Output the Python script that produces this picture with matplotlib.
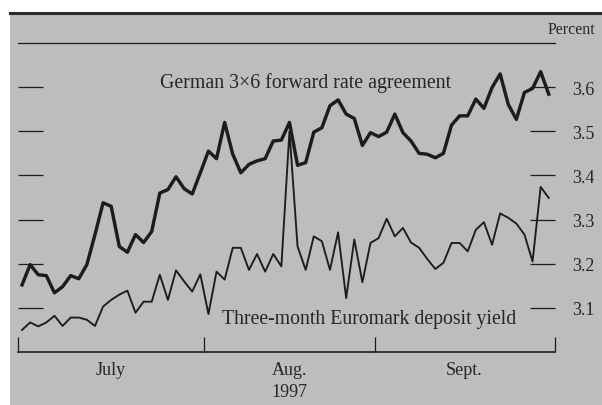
import matplotlib
matplotlib.use("Agg")
import matplotlib.pyplot as plt
from matplotlib.patches import Rectangle
from matplotlib.lines import Line2D
import numpy as np

# ---------------- data ----------------
months = ["July", "Aug.", "Sept."]
month_business_days = [23, 21, 22]
year_label = "1997"

fra_3x6 = [3.152, 3.198, 3.175, 3.173, 3.134, 3.148, 3.173, 3.166, 3.198, 3.266,
           3.338, 3.330, 3.239, 3.226, 3.266, 3.248, 3.273, 3.360, 3.368, 3.397,
           3.370, 3.358, 3.406, 3.455, 3.438, 3.520, 3.448, 3.406, 3.425, 3.433,
           3.438, 3.478, 3.480, 3.520, 3.423, 3.429, 3.498, 3.508, 3.558, 3.571,
           3.539, 3.529, 3.468, 3.497, 3.488, 3.498, 3.539, 3.497, 3.478, 3.450,
           3.448, 3.440, 3.450, 3.514, 3.535, 3.535, 3.573, 3.552, 3.599, 3.630,
           3.561, 3.527, 3.588, 3.597, 3.635, 3.584]

euromark_3m = [3.050, 3.067, 3.058, 3.067, 3.082, 3.059, 3.078, 3.078, 3.073, 3.059,
               3.103, 3.118, 3.130, 3.139, 3.089, 3.114, 3.114, 3.175, 3.118, 3.185,
               3.160, 3.137, 3.176, 3.086, 3.182, 3.164, 3.236, 3.236, 3.186, 3.222,
               3.182, 3.222, 3.194, 3.500, 3.239, 3.186, 3.262, 3.251, 3.186, 3.271,
               3.122, 3.255, 3.158, 3.247, 3.258, 3.302, 3.262, 3.281, 3.248, 3.236,
               3.211, 3.188, 3.202, 3.247, 3.247, 3.228, 3.277, 3.294, 3.243, 3.314,
               3.304, 3.291, 3.266, 3.205, 3.374, 3.349]

yticks = [3.1, 3.2, 3.3, 3.4, 3.5, 3.6]
ytick_labels = ["3.1", "3.2", "3.3", "3.4", "3.5", "3.6"]
fra_label = "German 3\u00d76 forward rate agreement"
euromark_label = "Three-month Euromark deposit yield"
unit_label = "Percent"

# ---------------- style ----------------
SERIF = ["Liberation Serif", "DejaVu Serif"]
TXT = "#262626"
INK = "#1c1c1c"
BG = "#bdbdbd"

W, H = 602, 406
fig = plt.figure(figsize=(W / 100, H / 100), dpi=100)
fig.patch.set_facecolor("white")


def fx(px):
    return px / W


def fy(py):
    return 1 - py / H


# gray panel and top border
fig.patches.append(Rectangle((fx(10), 0), 1 - fx(10), fy(13), transform=fig.transFigure,
                             facecolor=BG, edgecolor="none", zorder=-5))
fig.lines.append(Line2D([fx(10), 1], [fy(13.5), fy(13.5)], transform=fig.transFigure,
                        color="#2b2b2b", lw=2.2, zorder=-4))

ax = fig.add_axes([fx(18), fy(353), fx(555) - fx(18), fy(44) - fy(353)])
ax.set_facecolor("none")

x = np.arange(len(fra_3x6))
ax.plot(x, euromark_3m, color=INK, lw=1.35)
ax.plot(x, fra_3x6, color=INK, lw=2.45)

# x axis: month boundaries
bounds = np.concatenate([[0], np.cumsum(month_business_days)]) - 0.5
xmax = bounds[-1] + 0.27
ax.set_xlim(bounds[0], xmax)
xt = list(bounds[:-1]) + [xmax]
ax.set_xticks(xt)
ax.tick_params(axis="x", direction="in", length=10.5, width=0.9, color=INK,
               labelbottom=False)
mids = (bounds[:-1] + bounds[1:]) / 2
for m, label in zip(mids, months):
    ax.text(m, -0.058, label, transform=ax.get_xaxis_transform(), ha="center",
            va="center", fontsize=13, family=SERIF, color=TXT)
ax.text(mids[1], -0.129, year_label, transform=ax.get_xaxis_transform(), ha="center",
        va="center", fontsize=13, family=SERIF, color=TXT)

# y axis
ax.set_ylim(3.0, 3.7)
ax.set_yticks(yticks)
ax.set_yticklabels(ytick_labels)
ax.tick_params(axis="y", direction="in", length=18, width=0.9, color=INK,
               left=True, right=True, labelleft=False, labelright=True, pad=12,
               labelsize=13, labelcolor=TXT)
for lab in ax.get_yticklabels():
    lab.set_family(SERIF)

for s in ["left", "right"]:
    ax.spines[s].set_visible(False)
ax.spines["top"].set_linewidth(0.9)
ax.spines["top"].set_color(INK)
ax.spines["bottom"].set_linewidth(1.2)
ax.spines["bottom"].set_color(INK)

# series labels
ax.text(17.0, 3.611, fra_label, ha="left", va="center", fontsize=14.3,
        family=SERIF, color=TXT)
ax.text(24.7, 3.077, euromark_label, ha="left", va="center", fontsize=14.2,
        family=SERIF, color=TXT)

fig.text(fx(595), fy(30), unit_label, ha="right", va="center", fontsize=11.5,
         family=SERIF, color=TXT)

fig.savefig("out.png", dpi=100, facecolor=fig.get_facecolor())
